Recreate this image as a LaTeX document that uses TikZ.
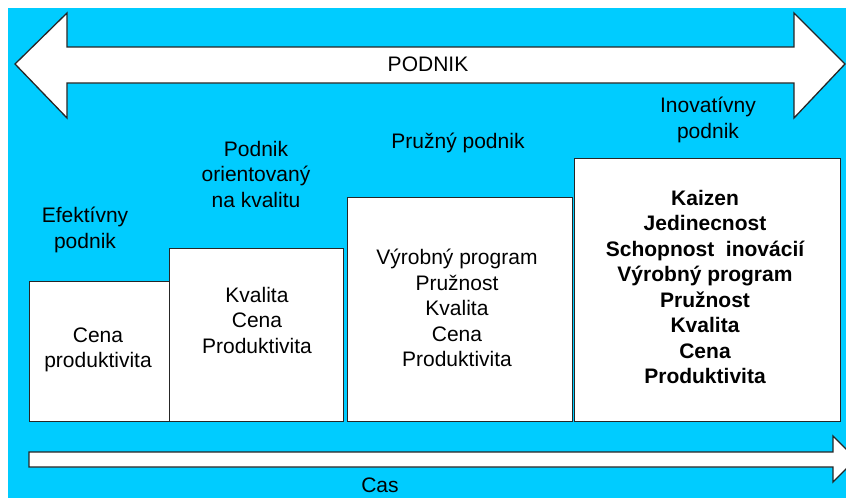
\documentclass[tikz,border=0pt]{standalone}
\usepackage{fontspec}
\setmainfont{Liberation Sans}
\definecolor{bgCyan}{RGB}{0,204,255}
\begin{document}
\begin{tikzpicture}[x=1pt, y=-1pt, stageBox/.style={rectangle, draw=black!85, line width=1.3pt, fill=white, anchor=north west, inner sep=0pt}, stageText/.style={align=center, inner sep=0pt, font=\fontsize{21}{25.5}\selectfont}, boldText/.style={stageText, font=\fontsize{21}{25.5}\selectfont\bfseries}, arrowShape/.style={draw=black!85, line width=1.3pt, fill=white, line join=miter}]
                    \useasboundingbox (0,0) rectangle (846,498);
                    \fill[white] (0,0) rectangle (846,498);
                    \fill[bgCyan] (8,8) rectangle (846,498);

                    \draw[arrowShape] (15,64) -- (67,13) -- (67,47) -- (794,47) -- (794,13) -- (845,64) -- (794,118) -- (794,83) -- (67,83) -- (67,118) -- cycle;
                    \node[stageText] (podnik) at (428,64) {PODNIK};

                    \node[stageBox, minimum width=140, minimum height=140] (effBox)  at (29, 281) {};
                    \node[stageBox, minimum width=174, minimum height=173] (kvalBox) at (169, 248) {};
                    \node[stageBox, minimum width=225, minimum height=224] (pruzBox) at (347, 197) {};
                    \node[stageBox, minimum width=266, minimum height=263] (inovBox) at (574, 158) {};

                    \node[stageText] (effLabel)  at (85, 230)  {Efektívny\\podnik};
                    \node[stageText] (kvalLabel) at (256, 174) {Podnik\\orientovaný\\na kvalitu};
                    \node[stageText] (pruzLabel) at (458, 143) {Pružný podnik};
                    \node[stageText] (inovLabel) at (708, 120) {Inovatívny\\podnik};

                    \node[stageText] (effItems)  at (98, 350)  {Cena\\produktivita};
                    \node[stageText] (kvalItems) at (257, 320) {Kvalita\\Cena\\Produktivita};
                    \node[stageText] (pruzItems) at (457, 308) {Výrobný program\\Pružnost\\Kvalita\\Cena\\Produktivita};
                    \node[boldText]  (inovItems) at (705, 287) {Kaizen\\Jedinecnost\\Schopnost~ inovácií\\Výrobný program\\Pružnost\\Kvalita\\Cena\\Produktivita};

                    \draw[arrowShape] (29,452) -- (833,452) -- (833,436) -- (856,459) -- (833,482) -- (833,467) -- (29,467) -- cycle;
                    \node[stageText] (cas) at (380, 485) {Cas};
                \end{tikzpicture}
\end{document}
